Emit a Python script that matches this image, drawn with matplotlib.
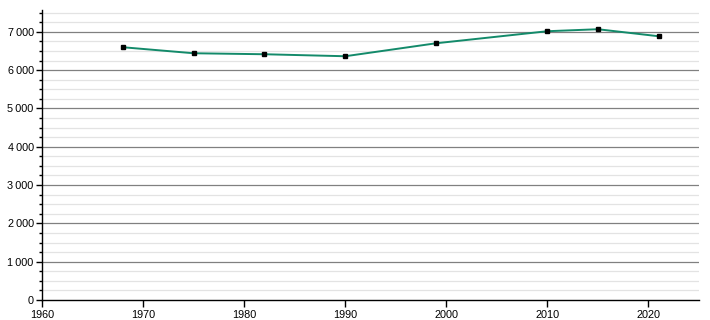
import numpy as np
import matplotlib
matplotlib.use("Agg")
import matplotlib.pyplot as plt
from matplotlib.ticker import MultipleLocator, FuncFormatter

years = [1968, 1975, 1982, 1990, 1999, 2010, 2015, 2021]
population = [6598, 6441, 6415, 6363, 6702, 7016, 7068, 6885]

plt.rcParams['font.family'] = ['Liberation Sans', 'DejaVu Sans']

fig = plt.figure(figsize=(7.1, 3.2), dpi=100)
ax = fig.add_axes([42/710, 20/320, (699-42)/710, (300-10)/320])

ax.set_xlim(1960, 2025)
ax.set_ylim(0, 7570)

for v in np.arange(250, 7570, 250):
    if v % 1000 == 0:
        ax.axhline(v, color='#808080', lw=0.9, zorder=1)
    else:
        ax.axhline(v, color='#e3e3e3', lw=0.9, zorder=0)

ax.plot(years, population, color='#138a6a', lw=1.4, zorder=3)
ax.plot(years, population, 's', color='black', ms=3.2, zorder=4)

ax.xaxis.set_major_locator(MultipleLocator(10))
ax.yaxis.set_major_locator(MultipleLocator(1000))
ax.yaxis.set_minor_locator(MultipleLocator(250))
ax.yaxis.set_major_formatter(FuncFormatter(lambda v, p: f"{int(v):,}".replace(",", "\u2009") if v >= 1000 else f"{int(v)}"))

for s in ['top', 'right']:
    ax.spines[s].set_visible(False)
for s in ['left', 'bottom']:
    ax.spines[s].set_color('black')
    ax.spines[s].set_linewidth(1)

ax.tick_params(axis='both', labelsize=7.8, colors='black', width=1)
ax.tick_params(axis='y', which='major', length=4, pad=2)
ax.tick_params(axis='y', which='minor', length=2, width=1)
ax.tick_params(axis='x', which='major', length=5, pad=2)

fig.savefig('out.png', dpi=100)
